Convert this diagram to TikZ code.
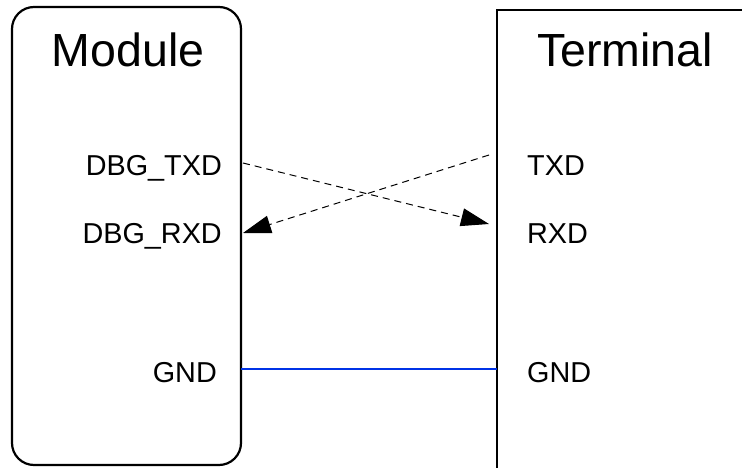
\documentclass[tikz,border=0pt]{standalone}
\usepackage{fontspec}
\setmainfont{Liberation Sans}
\usetikzlibrary{arrows.meta}
\definecolor{gndblue}{RGB}{0,50,230}
\begin{document}
\begin{tikzpicture}[x=1pt,y=1pt,
  box/.style={line width=2.2pt},
  title/.style={anchor=base,inner sep=0pt,font=\fontsize{46.5}{46.5}\selectfont},
  pinl/.style={anchor=base east,inner sep=0pt,font=\fontsize{28.8}{28.8}\selectfont},
  pinr/.style={anchor=base west,inner sep=0pt,font=\fontsize{28.8}{28.8}\selectfont},
  sig/.style={line width=1pt,dash pattern=on 7pt off 5pt,-{Triangle[length=28pt,width=18pt]}},
  gnd/.style={line width=1.3pt,draw=gndblue}]
\useasboundingbox (0,0) rectangle (742,467);
\fill[white] (0,0) rectangle (742,467);
% boxes
\node[box,draw,rounded corners=22pt,minimum width=229pt,minimum height=458pt,inner sep=0pt] (module) at (126.5,231) {};
\draw[box] (497,-10) -- (497,457) -- (760,457);
\coordinate (termL) at (497,231);
% titles
\node[title] (mt) at (128,400) {Module};
\node[title] (tt) at (625,400) {Terminal};
% pins
\node[pinl] (dtx) at (222,292) {DBG\_TXD};
\node[pinl] (drx) at (222,224) {DBG\_RXD};
\node[pinl] (mg) at (217,85) {GND};
\node[pinr] (ttx) at (527,292) {TXD};
\node[pinr] (trx) at (527,224) {RXD};
\node[pinr] (tg) at (527,85) {GND};
% connector endpoints
\coordinate (a1) at (243,304);
\coordinate (b1) at (489,243);
\coordinate (a2) at (489,312);
\coordinate (b2) at (243,234);
\coordinate (g1) at (241,98);
\coordinate (g2) at (497,98);
\draw[sig] (a1) -- (b1);
\draw[sig] (a2) -- (b2);
\draw[gnd] (g1) -- (g2);
\end{tikzpicture}
\end{document}
